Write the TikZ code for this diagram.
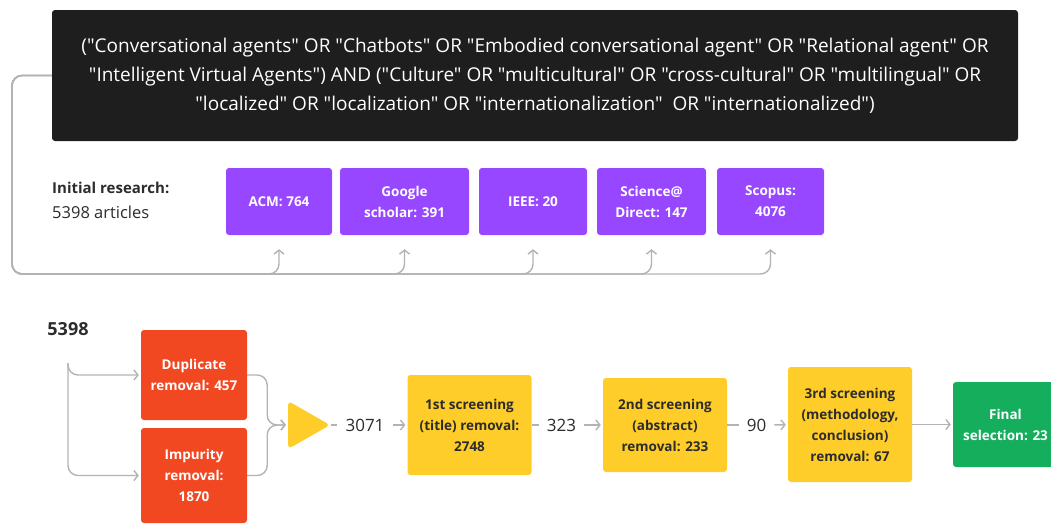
\documentclass[tikz,border=0pt]{standalone}
\usepackage{fontspec}
\setmainfont{Open Sans}[Ligatures=TeXOff]
\usetikzlibrary{arrows.meta,shapes.geometric}
\definecolor{querybg}{HTML}{1E1E1E}
\definecolor{srcpurple}{HTML}{9747FF}
\definecolor{remred}{HTML}{F24822}
\definecolor{scryellow}{HTML}{FFCD29}
\definecolor{selgreen}{HTML}{14AE5C}
\definecolor{linegray}{HTML}{B3B3B3}
\definecolor{txtdark}{HTML}{2C2C2C}

\begin{document}
\begin{tikzpicture}[x=1pt, y=-1pt,
  box/.style={rounded corners=3pt, align=center, inner sep=0pt,
    font=\fontsize{13.5}{21}\selectfont\bfseries},
  source/.style={box, fill=srcpurple, text=white, minimum height=67pt},
  removal/.style={box, fill=remred, text=white, minimum width=106pt},
  screening/.style={box, fill=scryellow, text=txtdark, minimum width=124pt},
  count/.style={font=\fontsize{17}{20}\selectfont, text=txtdark, inner sep=8pt},
  link/.style={draw=linegray, line width=1.4pt, rounded corners=10pt},
  flow/.style={link, -{Straight Barb[length=4pt,width=10pt]}, shorten >=2pt}]
\useasboundingbox (0,0) rectangle (1051,525);
\clip (0,0) rectangle (1051,525);

% Search query
\node[fill=querybg, rounded corners=3pt, minimum width=966pt, minimum height=131pt,
  text=white, align=center, font=\fontsize{19}{29}\selectfont] (query) at (535,75.5)
  {("Conversational agents" OR "Chatbots" OR "Embodied conversational agent" OR "Relational agent" OR\\
   "Intelligent Virtual Agents") AND ("Culture" OR "multicultural" OR "cross-cultural" OR "multilingual" OR\\
   "localized" OR "localization" OR "internationalization"~ OR "internationalized")};

% Databases
\node[anchor=west, align=left, inner sep=0pt, text=txtdark, font=\fontsize{15}{25}\selectfont] (init) at (52,200)
  {\textbf{Initial research:}\\\fontsize{16.5}{25}\selectfont 5398 articles};
\node[source, minimum width=106pt] (acm) at (279,201.5) {ACM: 764};
\node[source, minimum width=129pt] (gs) at (404.5,201.5) {Google\\scholar: 391};
\node[source, minimum width=108pt] (ieee) at (533,201.5) {IEEE: 20};
\node[source, minimum width=109pt] (sd) at (651.5,201.5) {Science@\\Direct: 147};
\node[source, minimum width=107pt] (scopus) at (770.5,201.5) {Scopus:\\4076};
\coordinate (loop) at (12,274);
\foreach \db in {acm,gs,ieee,sd,scopus}
  \draw[flow] (query.west) -| (loop) -| ([yshift=-12pt]\db.south);

% Screening pipeline
\node[text=txtdark, font=\fontsize{18}{18}\selectfont\bfseries] (total) at (68,329) {5398};
\coordinate (split) at (68,363);
\node[removal, minimum height=90pt] (dup) at (194,375) {Duplicate\\removal: 457};
\node[removal, minimum height=95pt] (imp) at (194,475.5) {Impurity\\removal:\\1870};
\draw[flow] (split) |- (dup.west);
\draw[flow] (split) |- (imp.west);

\node[isosceles triangle, isosceles triangle stretches, fill=scryellow, rounded corners=4pt,
  inner sep=0pt, minimum width=48pt, minimum height=42pt] (merge) at (302,425) {};
\draw[flow] (dup.east) -- ++(20,0) |- (merge.west);
\draw[flow] (imp.east) -- ++(20,0) |- (merge.west);

\node[count] (n3071) at (365,425) {3071};
\node[screening, minimum height=100pt] (s1) at (469.5,425) {1st screening\\(title) removal:\\2748};
\node[count] (n323) at (561.5,425) {323};
\node[screening, minimum height=94pt] (s2) at (665,425) {2nd screening\\(abstract)\\removal: 233};
\node[count] (n90) at (756.5,425) {90};
\node[screening, minimum height=115pt] (s3) at (850,424.5) {3rd screening\\(methodology,\\conclusion)\\removal: 67};
\node[box, fill=selgreen, text=white, minimum width=105pt, minimum height=85pt] (final) at (1005.5,424.5)
  {Final\\selection: 23};

\draw[link] (merge.east) -- (n3071);
\draw[flow] (n3071) -- (s1);
\draw[link] (s1) -- (n323);
\draw[flow] (n323) -- (s2);
\draw[link] (s2) -- (n90);
\draw[flow] (n90) -- (s3);
\draw[flow] (s3) -- (final);
\end{tikzpicture}
\end{document}
